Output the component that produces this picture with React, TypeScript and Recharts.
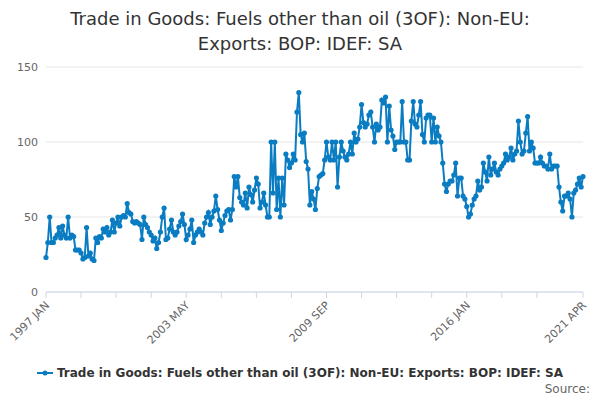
import React from 'react';
import { LineChart, Line, XAxis, YAxis, CartesianGrid } from 'recharts';

const startYear = 1997;
const values: number[] = [
  // 1997
  23, 33, 50, 33, 33, 36, 38, 43, 36, 44, 38, 36,
  // 1998
  50, 36, 38, 37, 28, 28, 28, 26, 22, 23, 43, 24,
  // 1999
  26, 22, 21, 36, 33, 37, 36, 42, 40, 43, 38, 40,
  // 2000
  48, 40, 46, 50, 44, 50, 51, 50, 59, 53, 52, 47,
  // 2001
  46, 47, 46, 45, 35, 50, 45, 43, 40, 38, 34, 36,
  // 2002
  29, 33, 40, 50, 56, 35, 36, 42, 48, 40, 38, 40,
  // 2003
  44, 47, 52, 45, 35, 38, 42, 48, 33, 38, 40, 42,
  // 2004
  40, 38, 46, 50, 53, 45, 50, 54, 64, 55, 48, 41,
  // 2005
  46, 51, 54, 55, 48, 55, 77, 70, 77, 63, 60, 58,
  // 2006
  66, 56, 70, 65, 60, 68, 76, 72, 56, 60, 66, 58,
  // 2007
  50, 50, 100, 66, 100, 55, 76, 50, 76, 58, 92, 88,
  // 2008
  83, 86, 92, 88, 120, 133, 105, 100, 106, 87, 82, 58,
  // 2009
  67, 62, 55, 69, 77, 78, 79, 88, 100, 90, 88, 100,
  // 2010
  88, 100, 70, 90, 100, 94, 90, 88, 92, 100, 92, 106,
  // 2011
  100, 102, 110, 125, 113, 110, 112, 118, 120, 110, 100, 112,
  // 2012
  108, 110, 128, 126, 130, 100, 124, 108, 104, 95, 100, 100,
  // 2013
  100, 127, 100, 100, 88, 88, 114, 127, 112, 110, 118, 127,
  // 2014
  105, 100, 116, 118, 118, 100, 116, 100, 110, 104, 100, 86,
  // 2015
  72, 67, 72, 74, 74, 78, 86, 64, 76, 76, 64, 62,
  // 2016
  57, 50, 52, 58, 62, 64, 74, 68, 70, 86, 80, 74,
  // 2017
  90, 78, 82, 86, 80, 78, 82, 84, 86, 92, 88, 90,
  // 2018
  96, 88, 92, 94, 114, 100, 92, 94, 106, 117, 94, 100,
  // 2019
  96, 86, 86, 86, 90, 86, 84, 84, 82, 92, 82, 84,
  // 2020
  84, 84, 70, 60, 54, 64, 64, 66, 62, 50, 66, 68,
  // 2021
  72, 76, 70, 77,
];

const months = ['JAN', 'FEB', 'MAR', 'APR', 'MAY', 'JUN', 'JUL', 'AUG', 'SEP', 'OCT', 'NOV', 'DEC'];
const labelledTicks = [0, 76, 152, 228, 291];
const minorTicks = [0, 19, 38, 57, 76, 95, 114, 133, 152, 171, 190, 209, 228, 247, 266, 291];
const yTicks = [0, 50, 100, 150];
const seriesName = 'Trade in Goods: Fuels other than oil (3OF): Non-EU: Exports: BOP: IDEF: SA';

const data = values.map((v, i) => ({
  i,
  label: `${startYear + Math.floor(i / 12)} ${months[i % 12]}`,
  v,
}));

const XTick = (props: any) => {
  const { x, y, payload } = props;
  if (!labelledTicks.includes(payload.value)) return null;
  return (
    <text x={x + 4} y={y + 6} transform={`rotate(-45 ${x + 4} ${y + 6})`} textAnchor="end" fill="#666" fontSize={11}>
      {data[payload.value].label}
    </text>
  );
};

export default function App() {
  const font = '"DejaVu Sans", sans-serif';
  return (
    <div style={{ position: 'absolute', left: 0, top: 0, width: 600, height: 400, fontFamily: font, background: '#fff' }}>
      <div style={{ position: 'absolute', top: 6, left: 0, width: 600, textAlign: 'center', fontSize: 18, color: '#333', lineHeight: '25px' }}>
        Trade in Goods: Fuels other than oil (3OF): Non-EU:<br />Exports: BOP: IDEF: SA
      </div>
      <LineChart width={600} height={400} data={data} margin={{ top: 67, right: 17, left: 0, bottom: 48 }}>
        <CartesianGrid vertical={false} stroke="#e6e6e6" />
        <XAxis
          dataKey="i"
          type="number"
          domain={[0, 291]}
          ticks={minorTicks}
          interval={0}
          height={60}
          stroke="#ccd6eb"
          tickSize={6}
          tick={<XTick />}
        />
        <YAxis
          domain={[0, 150]}
          ticks={yTicks}
          width={46}
          axisLine={false}
          tickLine={false}
          tick={{ fill: '#666', fontSize: 11 }}
        />
        <Line
          dataKey="v"
          stroke="#0a7cc2"
          strokeWidth={2}
          dot={{ r: 1.6, fill: '#0a7cc2', stroke: '#0a7cc2' }}
          isAnimationActive={false}
        />
      </LineChart>
      <div style={{ position: 'absolute', top: 366, left: 0, width: 600, display: 'flex', justifyContent: 'center', alignItems: 'center', fontSize: 12, fontWeight: 'bold', color: '#333' }}>
        <svg width={16} height={10} style={{ marginRight: 4 }}>
          <line x1={0} y1={5} x2={16} y2={5} stroke="#0a7cc2" strokeWidth={2} />
          <circle cx={8} cy={5} r={2.5} fill="#0a7cc2" />
        </svg>
        {seriesName}
      </div>
      <div style={{ position: 'absolute', top: 382, right: 10, fontSize: 12, color: '#666' }}>Source:</div>
    </div>
  );
}
